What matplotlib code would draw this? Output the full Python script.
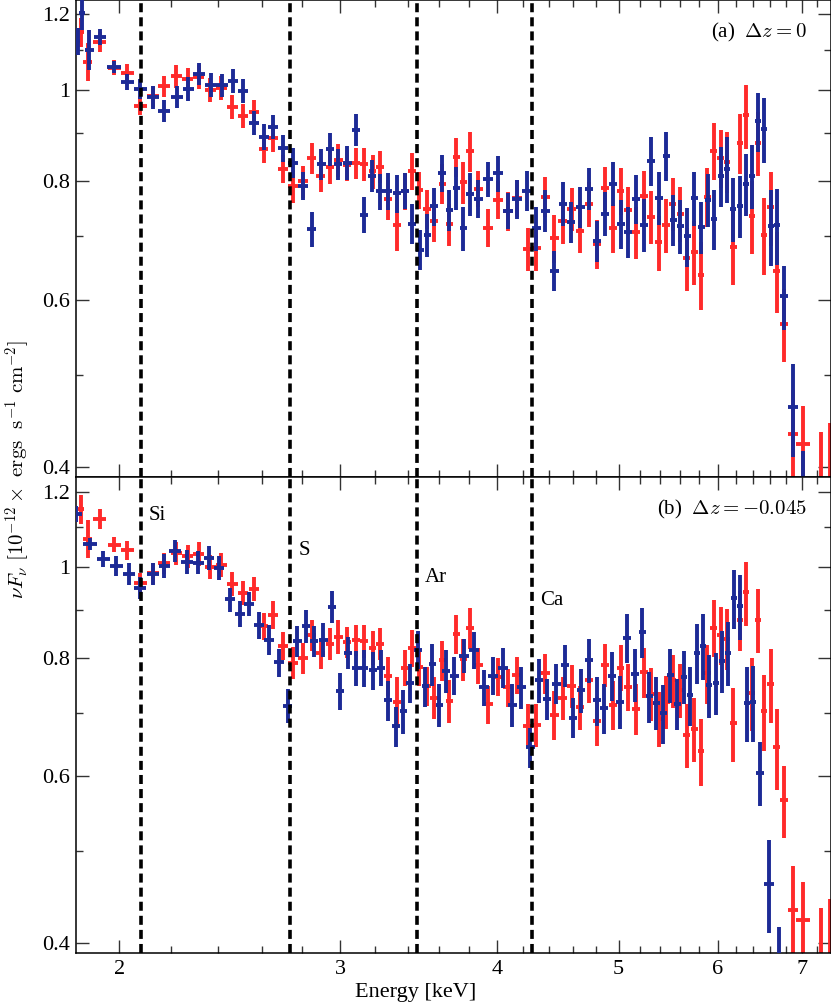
import numpy as np
import matplotlib.pyplot as plt
from matplotlib.ticker import FixedLocator, FixedFormatter, NullFormatter

plt.rcParams['font.family'] = 'serif'
plt.rcParams['font.serif'] = ['Liberation Serif', 'DejaVu Serif']
plt.rcParams['mathtext.fontset'] = 'cm'

# blue spectrum, energies as plotted in panel (a)
blue_e = [1.855, 1.869, 1.893, 1.931, 1.982, 2.030, 2.079, 2.129, 2.172, 2.225,
          2.270, 2.316, 2.368, 2.416, 2.465, 2.511, 2.562, 2.609, 2.653, 2.702,
          2.752, 2.803, 2.849, 2.897, 2.945, 2.989, 3.039, 3.089, 3.135, 3.181,
          3.228, 3.276, 3.331, 3.380, 3.424, 3.474, 3.519, 3.565, 3.618, 3.664,
          3.712, 3.760, 3.808, 3.865, 3.936, 4.009, 4.083, 4.151, 4.228, 4.298,
          4.370, 4.443, 4.517, 4.584, 4.660, 4.738, 4.808, 4.879, 4.951, 5.024,
          5.089, 5.164, 5.240, 5.308, 5.386, 5.456, 5.527, 5.598, 5.670, 5.744,
          5.818, 5.893, 5.958, 6.035, 6.102, 6.169, 6.249, 6.318, 6.388, 6.459,
          6.530, 6.615, 6.688, 6.773, 6.886, 7.014]
blue_f = [1.124, 1.203, 1.102, 1.137, 1.057, 1.019, 1.002, 0.982, 0.950, 0.983,
          1.002, 1.039, 1.012, 1.010, 1.022, 0.997, 0.923, 0.892, 0.914, 0.867,
          0.837, 0.792, 0.713, 0.834, 0.865, 0.834, 0.837, 0.907, 0.738, 0.811,
          0.781, 0.781, 0.777, 0.782, 0.722, 0.678, 0.703, 0.753, 0.817, 0.747,
          0.788, 0.714, 0.776, 0.767, 0.805, 0.816, 0.745, 0.767, 0.782, 0.714,
          0.745, 0.644, 0.758, 0.725, 0.752, 0.786, 0.692, 0.740, 0.796, 0.722,
          0.708, 0.767, 0.720, 0.841, 0.769, 0.852, 0.729, 0.718, 0.700, 0.768,
          0.716, 0.765, 0.731, 0.811, 0.825, 0.749, 0.754, 0.795, 0.811, 0.926,
          0.908, 0.718, 0.719, 0.605, 0.462, 0.380]
blue_err = [0.036, 0.047, 0.054, 0.022, 0.015, 0.020, 0.024, 0.027, 0.026, 0.026,
            0.029, 0.028, 0.030, 0.029, 0.030, 0.029, 0.027, 0.028, 0.027, 0.028,
            0.030, 0.027, 0.030, 0.031, 0.034, 0.031, 0.035, 0.036, 0.033, 0.031,
            0.034, 0.035, 0.036, 0.034, 0.035, 0.033, 0.037, 0.035, 0.037, 0.037,
            0.041, 0.038, 0.041, 0.035, 0.034, 0.036, 0.032, 0.036, 0.038, 0.038,
            0.038, 0.031, 0.040, 0.036, 0.037, 0.040, 0.034, 0.040, 0.043, 0.043,
            0.043, 0.046, 0.046, 0.050, 0.050, 0.051, 0.045, 0.047, 0.050, 0.050,
            0.045, 0.049, 0.053, 0.059, 0.066, 0.058, 0.057, 0.060, 0.063, 0.066,
            0.071, 0.066, 0.066, 0.047, 0.052, 0.036]

# red spectrum (same in both panels)
red_e = [1.865, 1.888, 1.930, 1.983, 2.030, 2.079, 2.129, 2.172, 2.222, 2.268,
         2.314, 2.364, 2.412, 2.461, 2.511, 2.560, 2.607, 2.653, 2.702, 2.751,
         2.802, 2.849, 2.896, 2.945, 2.990, 3.038, 3.089, 3.136, 3.184, 3.228,
         3.277, 3.330, 3.377, 3.423, 3.469, 3.518, 3.566, 3.619, 3.664, 3.712,
         3.760, 3.808, 3.866, 3.937, 4.010, 4.084, 4.152, 4.233, 4.301, 4.370,
         4.443, 4.514, 4.587, 4.660, 4.735, 4.806, 4.879, 4.950, 5.020, 5.090,
         5.167, 5.240, 5.306, 5.382, 5.456, 5.525, 5.598, 5.668, 5.744, 5.816,
         5.886, 5.954, 6.031, 6.103, 6.173, 6.249, 6.320, 6.388, 6.460, 6.530,
         6.609, 6.685, 6.773, 6.888, 7.012, 7.249, 7.370]
red_f = [1.150, 1.070, 1.123, 1.055, 1.040, 0.962, 0.984, 1.008, 1.033, 1.025,
         1.032, 1.000, 1.004, 0.959, 0.938, 0.948, 0.865, 0.889, 0.825, 0.791,
         0.800, 0.846, 0.810, 0.829, 0.843, 0.832, 0.836, 0.834, 0.820, 0.829,
         0.766, 0.720, 0.782, 0.820, 0.783, 0.748, 0.727, 0.796, 0.721, 0.849,
         0.798, 0.861, 0.786, 0.715, 0.765, 0.745, 0.768, 0.679, 0.680, 0.771,
         0.697, 0.726, 0.748, 0.710, 0.758, 0.687, 0.787, 0.714, 0.782, 0.746,
         0.707, 0.773, 0.734, 0.690, 0.720, 0.758, 0.740, 0.664, 0.674, 0.638,
         0.771, 0.862, 0.847, 0.839, 0.683, 0.878, 0.939, 0.735, 0.879, 0.703,
         0.751, 0.644, 0.566, 0.433, 0.423, 0.380, 0.380]
red_err = [0.040, 0.050, 0.027, 0.020, 0.023, 0.023, 0.025, 0.026, 0.028, 0.028,
           0.030, 0.029, 0.029, 0.028, 0.028, 0.028, 0.028, 0.030, 0.028, 0.031,
           0.031, 0.032, 0.031, 0.033, 0.034, 0.032, 0.032, 0.034, 0.034, 0.032,
           0.037, 0.045, 0.035, 0.037, 0.035, 0.035, 0.037, 0.039, 0.037, 0.040,
           0.041, 0.042, 0.035, 0.033, 0.035, 0.035, 0.035, 0.036, 0.036, 0.037,
           0.041, 0.038, 0.039, 0.038, 0.041, 0.041, 0.042, 0.042, 0.044, 0.043,
           0.044, 0.047, 0.047, 0.046, 0.047, 0.049, 0.049, 0.051, 0.052, 0.052,
           0.055, 0.059, 0.060, 0.062, 0.061, 0.064, 0.073, 0.065, 0.068, 0.065,
           0.067, 0.063, 0.050, 0.049, 0.041, 0.055, 0.065]

# line energies
line_e = [2.081, 2.737, 3.453, 4.267]
line_names = ['Si', 'S', 'Ar', 'Ca']
line_label_y = [1.132, 1.041, 0.973, 0.921]

dz = [0, -0.045]
dz_text = ['0', '-0.045']
tags = ['(a)', '(b)']

xticks = [2, 3, 4, 5, 6, 7]
xminor = [2.2, 2.4, 2.6, 2.8, 3.2, 3.4, 3.6, 3.8, 4.2, 4.4, 4.6, 4.8,
          5.2, 5.4, 5.6, 5.8, 6.2, 6.4, 6.6, 6.8, 7.2]
yticks = [0.4, 0.6, 0.8, 1, 1.2]
yticklabels = ['0.4', '0.6', '0.8', '1', '1.2']
yminor = [0.5, 0.7, 0.9, 1.1]

blue = '#1c2a96'
red = '#ff2a2a'

fig = plt.figure(figsize=(8.31, 10.02), dpi=100)
ax_a = fig.add_axes([0.0915, 0.5237, 0.9085, 0.4763])
ax_b = fig.add_axes([0.0915, 0.0486, 0.9085, 0.4751])

for i, ax in enumerate([ax_a, ax_b]):
    # blue spectrum moved by the redshift offset of the panel
    be = np.array(blue_e) / (1 - dz[i])
    re = np.array(red_e)
    ax.errorbar(re, red_f, yerr=red_err, xerr=np.gradient(re) / 2, fmt='none',
                ecolor=red, elinewidth=2.8, capsize=0, zorder=2)
    ax.errorbar(be, blue_f, yerr=blue_err, xerr=np.gradient(be) / 2, fmt='none',
                ecolor=blue, elinewidth=2.8, capsize=0, zorder=3)
    for x in line_e:
        ax.axvline(x, color='black', lw=2.6, dashes=(2.5, 1.4), zorder=4)

    ax.set_xscale('log')
    ax.set_yscale('log')
    ax.set_xlim(1.848, 7.384)
    ax.set_ylim(0.39, 1.243)

    ax.xaxis.set_major_locator(FixedLocator(xticks))
    ax.xaxis.set_major_formatter(FixedFormatter([str(t) for t in xticks]))
    ax.xaxis.set_minor_locator(FixedLocator(xminor))
    ax.xaxis.set_minor_formatter(NullFormatter())
    ax.yaxis.set_major_locator(FixedLocator(yticks))
    ax.yaxis.set_major_formatter(FixedFormatter(yticklabels))
    ax.yaxis.set_minor_locator(FixedLocator(yminor))
    ax.yaxis.set_minor_formatter(NullFormatter())

    ax.tick_params(which='both', direction='in', top=True, right=True,
                   labelsize=16, width=1.0, color='#333333')
    ax.tick_params(which='major', length=9.5, pad=4.5)
    ax.tick_params(which='minor', length=5)
    for s in ax.spines.values():
        s.set_linewidth(1.1)

    ax.text(0.968, 0.932, tags[i] + r'  $\Delta z = ' + dz_text[i] + '$',
            transform=ax.transAxes, ha='right', va='center', fontsize=15)

ax_a.tick_params(labelbottom=False)

for x, name, y in zip(line_e, line_names, line_label_y):
    ax_b.annotate(name, xy=(x, y), xytext=(6, 0), textcoords='offset points',
                  ha='left', va='center', fontsize=15)

fig.text(0.5, 0.019, 'Energy [keV]', ha='center', va='top', fontsize=16)
fig.text(0.021, 1 - 470 / 1002,
         r'$\nu F_\nu\ [10^{-12}\times\ \mathrm{ergs}\ \ \mathrm{s}^{-1}\ \mathrm{cm}^{-2}]$',
         rotation=90, ha='center', va='center', fontsize=15)

fig.savefig('out.png', dpi=100)
